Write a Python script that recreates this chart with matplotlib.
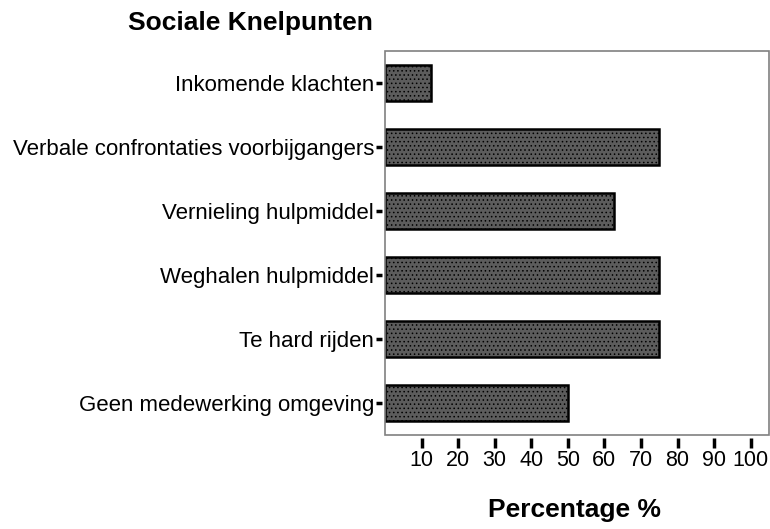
import numpy as np
import matplotlib
matplotlib.use("Agg")
import matplotlib.pyplot as plt
from matplotlib.patches import Rectangle

categories = [
    "Inkomende klachten",
    "Verbale confrontaties voorbijgangers",
    "Vernieling hulpmiddel",
    "Weghalen hulpmiddel",
    "Te hard rijden",
    "Geen medewerking omgeving",
]
values = [12.5, 75, 62.5, 75, 75, 50]
xticks = [10, 20, 30, 40, 50, 60, 70, 80, 90, 100]

plt.rcParams['font.family'] = ['Liberation Sans', 'DejaVu Sans']
plt.rcParams['hatch.color'] = '#7a7a7a'
plt.rcParams['hatch.linewidth'] = 0.6

fig = plt.figure(figsize=(7.7, 5.29), dpi=100)
ax = fig.add_axes([385 / 770, 94 / 529, 384 / 770, 384 / 529])

# ticks sit a bit away from the frame, so move the (hidden) spines out first
for s in ax.spines.values():
    s.set_visible(False)
ax.spines['bottom'].set_position(('outward', 2))
ax.spines['left'].set_position(('outward', 2))

y = np.arange(len(categories))
ax.barh(y, values, height=0.57, color='#5c5c5c', edgecolor='black',
        linewidth=1.8, hatch='....')
ax.set_ylim(len(categories) - 0.5, -0.5)
ax.set_xlim(0, 105)

ax.set_yticks(y)
ax.set_yticklabels(categories, fontsize=16)
ax.set_xticks(xticks)
ax.set_xticklabels([str(t) for t in xticks], fontsize=15.5)

ax.tick_params(axis='x', length=7, width=2.5, pad=2, color='black')
ax.tick_params(axis='y', length=4, width=2.5, pad=2, color='black')

ax.add_patch(Rectangle((0, 0), 1, 1, transform=ax.transAxes, fill=False,
                       edgecolor='#808080', linewidth=1.2, clip_on=False))

fig.text(128 / 770, 1 - 23 / 529, "Sociale Knelpunten", fontsize=19,
         fontweight='bold', va='center', ha='left')
fig.text(574 / 770, 1 - 510 / 529, "Percentage %", fontsize=19,
         fontweight='bold', va='center', ha='center')

fig.savefig("out.png", dpi=100)
